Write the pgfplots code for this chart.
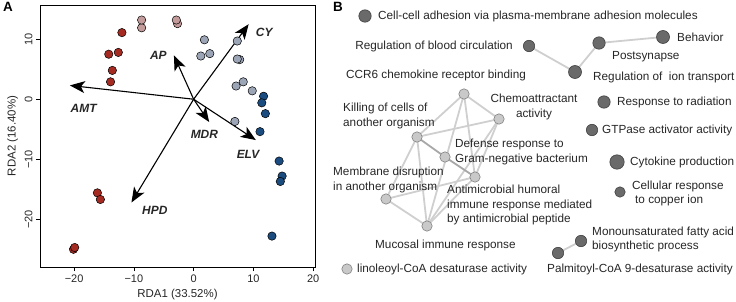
\documentclass[border=0pt]{standalone}
\usepackage{fontspec}
\setmainfont{Liberation Sans}
\usepackage{pgfplots}
\pgfplotsset{compat=1.18}
\usetikzlibrary{arrows.meta}
\definecolor{cred}{HTML}{A52A22}
\definecolor{cpink}{HTML}{C49B9B}
\definecolor{cgray}{HTML}{9BA5B6}
\definecolor{cblue}{HTML}{1B4C80}
\definecolor{ndark}{HTML}{6A6A6A}
\definecolor{nlight}{HTML}{C9C9C9}
\definecolor{edgec}{HTML}{CFCFCF}
\definecolor{edged}{HTML}{A8A8A8}
\newcommand{\fs}{\fontsize{11.8}{14.3}\selectfont}
\newcommand{\fl}{\fontsize{12}{14}\selectfont\bfseries\itshape}
\tikzset{
  arr/.style={-{Stealth[length=15bp,width=12bp,inset=4bp]}, line width=1.1bp, black, no marks},
  ed/.style={edgec, line width=1.8bp, no marks},
  edd/.style={edged, line width=1.8bp, no marks},
  pt/.style={only marks, mark=*, mark size=4.2bp, mark options={fill=#1, draw=black, line width=0.5bp}},
  nd/.style 2 args={only marks, mark=*, mark size=#2, mark options={fill=#1, draw=black!75, line width=0.6bp}},
  lb/.style={font=\fs, text=black!85, inner sep=0pt, anchor=west, align=left}
}
\begin{document}
\begin{tikzpicture}
\path[use as bounding box] (0,0) rectangle (736bp,302bp);
\node[font=\fontsize{13.5}{15}\selectfont\bfseries, anchor=north west, inner sep=0pt] at (3bp,300bp) {A};
\node[font=\fontsize{13.5}{15}\selectfont\bfseries, anchor=north west, inner sep=0pt] at (333bp,300bp) {B};
% ---------- Panel A ----------
\begin{axis}[at={(40bp,35bp)}, anchor=south west, scale only axis,
  width=275bp, height=262bp,
  xmin=-25.7, xmax=20.3, ymin=-27.95, ymax=15.7,
  xtick={-20,-10,0,10,20}, ytick={-20,-10,0,10},
  xticklabels={−20,−10,0,10,20}, yticklabels={−20,−10,0,10},
  tick align=outside, tick pos=left, major tick length=4bp,
  tick style={black, line width=0.6bp}, axis line style={line width=0.8bp},
  ticklabel style={font=\fontsize{11}{12}\selectfont, text=black!85},
  yticklabel style={rotate=90, anchor=south},
  xlabel={RDA1 (33.52\%)}, ylabel={RDA2 (16.40\%)},
  label style={font=\fontsize{11.5}{13}\selectfont, text=black!85},
  clip=false]
\addplot[pt=cred] coordinates {
(-12.0,11.1) (-14.2,7.5) (-12.6,7.8) (-13.6,4.8) (-13.9,2.9)
(-16.1,-15.6) (-15.6,-16.7) (-20.1,-25.0) (-19.9,-24.7)};
\addplot[pt=cpink] coordinates {
(-8.7,11.9) (-8.7,13.2) (-2.7,12.6) (-2.9,13.2)};
\addplot[pt=cgray] coordinates {
(1.8,9.9) (1.2,7.2) (2.7,7.6) (7.3,9.7) (7.7,6.6) (7.3,6.7)
(7.1,2.2) (8.3,2.9) (9.8,1.4) (6.9,-3.7)};
\addplot[pt=cblue] coordinates {
(11.7,0.5) (11.4,-0.6) (12.0,-2.4) (11.1,-5.4) (14.3,-10.3)
(14.8,-12.8) (14.5,-13.7) (13.1,-22.8)};
\addplot[arr] coordinates {(0,0) (9.2,12.5)};
\addplot[arr] coordinates {(0,0) (-3.3,7.3)};
\addplot[arr] coordinates {(0,0) (-20.7,2.3)};
\addplot[arr] coordinates {(0,0) (2.6,-3.8)};
\addplot[arr] coordinates {(0,0) (10.4,-6.8)};
\addplot[arr] coordinates {(0,0) (-10.4,-17.2)};
\node[font=\fl, text=black!85] at (axis cs:11.8,11.2) {CY};
\node[font=\fl, text=black!85] at (axis cs:-5.9,7.3) {AP};
\node[font=\fl, text=black!85] at (axis cs:-18.4,-1.6) {AMT};
\node[font=\fl, text=black!85] at (axis cs:1.8,-5.9) {MDR};
\node[font=\fl, text=black!85] at (axis cs:9.1,-9.2) {ELV};
\node[font=\fl, text=black!85] at (axis cs:-6.5,-18.6) {HPD};
\end{axis}
% ---------- Panel B ----------
\begin{axis}[at={(330bp,0bp)}, anchor=south west, scale only axis,
  width=406bp, height=302bp, xmin=330, xmax=736, ymin=0, ymax=302,
  y dir=reverse, axis lines=none, clip=false]
% edges
\addplot[ed] coordinates {(529,46) (575,72)};
\addplot[ed] coordinates {(575,72) (599,43)};
\addplot[ed] coordinates {(599,43) (663,37)};
\addplot[ed] coordinates {(581,241) (558,253)};
\addplot[ed] coordinates {(464,94) (417,137)};
\addplot[ed] coordinates {(464,94) (499,119)};
\addplot[ed] coordinates {(464,94) (475,177)};
\addplot[ed] coordinates {(464,94) (427,226)};
\addplot[ed] coordinates {(417,137) (499,119)};
\addplot[ed] coordinates {(417,137) (386,199)};
\addplot[ed] coordinates {(417,137) (427,226)};
\addplot[ed] coordinates {(386,199) (475,177)};
\addplot[ed] coordinates {(386,199) (427,226)};
\addplot[ed] coordinates {(427,226) (475,177)};
\addplot[ed] coordinates {(499,119) (475,177)};
\addplot[ed] coordinates {(499,119) (427,226)};
\addplot[edd] coordinates {(417,137) (445,157)};
\addplot[edd] coordinates {(445,157) (475,177)};
% nodes
\addplot[nd={ndark}{7.2bp}] coordinates {(617,162)};
\addplot[nd={ndark}{6.5bp}] coordinates {(663,37) (575,72)};
\addplot[nd={ndark}{6.2bp}] coordinates {(365,16) (599,43) (604,102)};
\addplot[nd={ndark}{5.7bp}] coordinates {(529,46) (592,130) (581,241) (558,253)};
\addplot[nd={ndark}{5.2bp}] coordinates {(620,192)};
\addplot[only marks, mark=*, mark size=5.2bp, mark options={fill=nlight, draw=black!50, line width=0.6bp}] coordinates {
(464,94) (499,119) (417,137) (445,157) (475,177) (386,199) (427,226) (347,269)};
% labels
\node[lb] at (axis cs:378,16) {Cell-cell adhesion via plasma-membrane adhesion molecules};
\node[lb, anchor=east] at (axis cs:513,46) {Regulation of blood circulation};
\node[lb] at (axis cs:677,37) {Behavior};
\node[lb] at (axis cs:612,57) {Postsynapse};
\node[lb] at (axis cs:593,77) {Regulation of\ \ ion transport};
\node[lb] at (axis cs:346,75) {CCR6 chemokine receptor binding};
\node[lb, anchor=center, align=center] at (axis cs:534,107) {Chemoattractant\\activity};
\node[lb] at (axis cs:343,116) {Killing of cells of\\another organism};
\node[lb] at (axis cs:617,102) {Response to radiation};
\node[lb] at (axis cs:602,130) {GTPase activator activity};
\node[lb] at (axis cs:455,152) {Defense response to\\Gram-negative bacterium};
\node[lb] at (axis cs:630,162) {Cytokine production};
\node[lb] at (axis cs:333,180) {Membrane disruption\\in another organism};
\node[lb] at (axis cs:447,205) {Antimicrobial humoral\\immune response mediated\\by antimicrobial peptide};
\node[lb] at (axis cs:632,193.5) {Cellular response\\\hspace*{3bp}to copper ion};
\node[lb] at (axis cs:375,245) {Mucosal immune response};
\node[lb] at (axis cs:592,239.5) {Monounsaturated fatty acid\\biosynthetic process};
\node[lb] at (axis cs:357,269) {linoleoyl-CoA desaturase activity};
\node[lb] at (axis cs:547,269) {Palmitoyl-CoA 9-desaturase activity};
\end{axis}
\end{tikzpicture}
\end{document}
